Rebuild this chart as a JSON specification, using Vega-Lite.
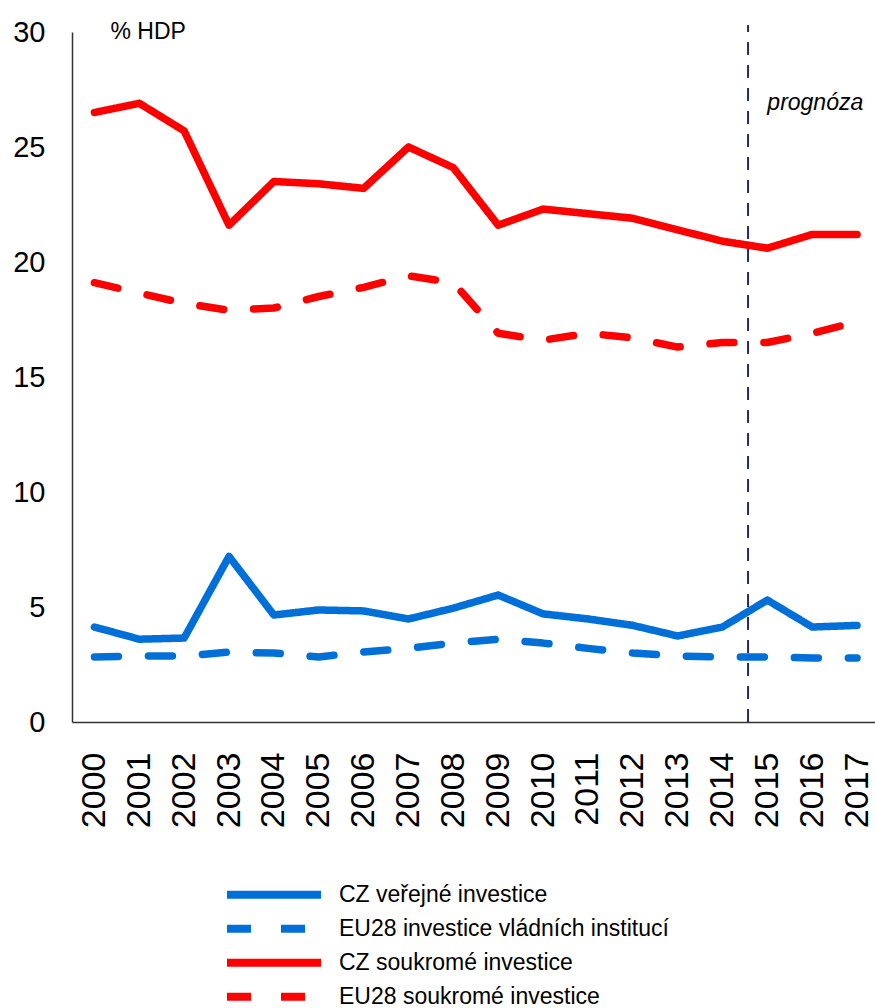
{
  "$schema": "https://vega.github.io/schema/vega-lite/v6.json",
  "width": 803,
  "height": 690,
  "autosize": {"type": "none"},
  "padding": {"left": 72, "top": 32, "right": 0, "bottom": 286},
  "background": "white",
  "config": {
    "view": {"stroke": null},
    "font": "Liberation Sans",
    "axis": {"labelColor": "#000", "titleColor": "#000", "domainColor": "#333", "domainWidth": 1.5, "ticks": false, "grid": false}
  },
  "datasets": {
    "inv": [
      {"year": 2000, "series": "CZ veřejné investice", "value": 4.13},
      {"year": 2001, "series": "CZ veřejné investice", "value": 3.6},
      {"year": 2002, "series": "CZ veřejné investice", "value": 3.65},
      {"year": 2003, "series": "CZ veřejné investice", "value": 7.2},
      {"year": 2004, "series": "CZ veřejné investice", "value": 4.65},
      {"year": 2005, "series": "CZ veřejné investice", "value": 4.87},
      {"year": 2006, "series": "CZ veřejné investice", "value": 4.83},
      {"year": 2007, "series": "CZ veřejné investice", "value": 4.48},
      {"year": 2008, "series": "CZ veřejné investice", "value": 4.95},
      {"year": 2009, "series": "CZ veřejné investice", "value": 5.52},
      {"year": 2010, "series": "CZ veřejné investice", "value": 4.7},
      {"year": 2011, "series": "CZ veřejné investice", "value": 4.48},
      {"year": 2012, "series": "CZ veřejné investice", "value": 4.2},
      {"year": 2013, "series": "CZ veřejné investice", "value": 3.74},
      {"year": 2014, "series": "CZ veřejné investice", "value": 4.13},
      {"year": 2015, "series": "CZ veřejné investice", "value": 5.3},
      {"year": 2016, "series": "CZ veřejné investice", "value": 4.13},
      {"year": 2017, "series": "CZ veřejné investice", "value": 4.2},
      {"year": 2000, "series": "EU28 investice vládních institucí", "value": 2.83},
      {"year": 2001, "series": "EU28 investice vládních institucí", "value": 2.87},
      {"year": 2002, "series": "EU28 investice vládních institucí", "value": 2.87},
      {"year": 2003, "series": "EU28 investice vládních institucí", "value": 3.04},
      {"year": 2004, "series": "EU28 investice vládních institucí", "value": 3.0},
      {"year": 2005, "series": "EU28 investice vládních institucí", "value": 2.83},
      {"year": 2006, "series": "EU28 investice vládních institucí", "value": 3.04},
      {"year": 2007, "series": "EU28 investice vládních institucí", "value": 3.2},
      {"year": 2008, "series": "EU28 investice vládních institucí", "value": 3.43},
      {"year": 2009, "series": "EU28 investice vládních institucí", "value": 3.6},
      {"year": 2010, "series": "EU28 investice vládních institucí", "value": 3.43},
      {"year": 2011, "series": "EU28 investice vládních institucí", "value": 3.2},
      {"year": 2012, "series": "EU28 investice vládních institucí", "value": 3.0},
      {"year": 2013, "series": "EU28 investice vládních institucí", "value": 2.87},
      {"year": 2014, "series": "EU28 investice vládních institucí", "value": 2.83},
      {"year": 2015, "series": "EU28 investice vládních institucí", "value": 2.83},
      {"year": 2016, "series": "EU28 investice vládních institucí", "value": 2.78},
      {"year": 2017, "series": "EU28 investice vládních institucí", "value": 2.78},
      {"year": 2000, "series": "CZ soukromé investice", "value": 26.5},
      {"year": 2001, "series": "CZ soukromé investice", "value": 26.9},
      {"year": 2002, "series": "CZ soukromé investice", "value": 25.7},
      {"year": 2003, "series": "CZ soukromé investice", "value": 21.6},
      {"year": 2004, "series": "CZ soukromé investice", "value": 23.5},
      {"year": 2005, "series": "CZ soukromé investice", "value": 23.4},
      {"year": 2006, "series": "CZ soukromé investice", "value": 23.2},
      {"year": 2007, "series": "CZ soukromé investice", "value": 25.0},
      {"year": 2008, "series": "CZ soukromé investice", "value": 24.1},
      {"year": 2009, "series": "CZ soukromé investice", "value": 21.6},
      {"year": 2010, "series": "CZ soukromé investice", "value": 22.3},
      {"year": 2011, "series": "CZ soukromé investice", "value": 22.1},
      {"year": 2012, "series": "CZ soukromé investice", "value": 21.9},
      {"year": 2013, "series": "CZ soukromé investice", "value": 21.4},
      {"year": 2014, "series": "CZ soukromé investice", "value": 20.9},
      {"year": 2015, "series": "CZ soukromé investice", "value": 20.6},
      {"year": 2016, "series": "CZ soukromé investice", "value": 21.2},
      {"year": 2017, "series": "CZ soukromé investice", "value": 21.2},
      {"year": 2000, "series": "EU28 soukromé investice", "value": 19.1},
      {"year": 2001, "series": "EU28 soukromé investice", "value": 18.65},
      {"year": 2002, "series": "EU28 soukromé investice", "value": 18.2},
      {"year": 2003, "series": "EU28 soukromé investice", "value": 17.9},
      {"year": 2004, "series": "EU28 soukromé investice", "value": 18.0},
      {"year": 2005, "series": "EU28 soukromé investice", "value": 18.5},
      {"year": 2006, "series": "EU28 soukromé investice", "value": 18.9},
      {"year": 2007, "series": "EU28 soukromé investice", "value": 19.4},
      {"year": 2008, "series": "EU28 soukromé investice", "value": 19.1},
      {"year": 2009, "series": "EU28 soukromé investice", "value": 16.9},
      {"year": 2010, "series": "EU28 soukromé investice", "value": 16.6},
      {"year": 2011, "series": "EU28 soukromé investice", "value": 16.9},
      {"year": 2012, "series": "EU28 soukromé investice", "value": 16.7},
      {"year": 2013, "series": "EU28 soukromé investice", "value": 16.3},
      {"year": 2014, "series": "EU28 soukromé investice", "value": 16.5},
      {"year": 2015, "series": "EU28 soukromé investice", "value": 16.5},
      {"year": 2016, "series": "EU28 soukromé investice", "value": 16.9},
      {"year": 2017, "series": "EU28 soukromé investice", "value": 17.4}
    ],
    "marker": [
      {"year": 2014.57, "label": "prognóza", "labelYear": 2015, "labelValue": 26.9, "bottom": 0, "top": 30.3}
    ]
  },
  "layer": [
    {
      "data": {"name": "inv"},
      "mark": {"type": "line", "strokeWidth": 7.5, "strokeCap": "round", "strokeJoin": "round"},
      "encoding": {
        "x": {
          "field": "year", "type": "quantitative",
          "scale": {"domain": [1999.5, 2017.4], "nice": false, "zero": false},
          "axis": {"values": [2000,2001,2002,2003,2004,2005,2006,2007,2008,2009,2010,2011,2012,2013,2014,2015,2016,2017], "format": "d", "labelAngle": -90, "labelFontSize": 34, "labelPadding": 30, "title": null, "labelFlush": false, "labelOverlap": false}
        },
        "y": {
          "field": "value", "type": "quantitative",
          "scale": {"domain": [0, 30], "nice": false},
          "axis": {"values": [0,5,10,15,20,25,30], "labelFontSize": 29, "labelPadding": 27, "labelFlush": false, "title": "% HDP", "titleAngle": 0, "titleX": 38, "titleY": 6, "titleAlign": "left", "titleBaseline": "alphabetic", "titleFontWeight": "normal", "titleFontSize": 23}
        },
        "color": {
          "field": "series", "type": "nominal",
          "scale": {"domain": ["CZ veřejné investice", "EU28 investice vládních institucí", "CZ soukromé investice", "EU28 soukromé investice"], "range": ["#0070D8", "#0070D8", "#FF0000", "#FF0000"]},
          "legend": {"orient": "none", "legendX": 151, "legendY": 846, "title": null, "symbolType": "stroke", "symbolSize": 8836, "symbolStrokeWidth": 8, "clipHeight": 33.5, "labelFontSize": 23, "labelOffset": 14, "padding": 0, "rowPadding": 0, "labelColor": "#000", "labelLimit": 500}
        },
        "strokeDash": {
          "field": "series", "type": "nominal",
          "scale": {"domain": ["CZ veřejné investice", "EU28 investice vládních institucí", "CZ soukromé investice", "EU28 soukromé investice"], "range": [[1, 0], [24, 30], [1, 0], [24, 30]]},
          "legend": {"orient": "none", "legendX": 151, "legendY": 846, "title": null, "symbolType": "stroke", "symbolSize": 8836, "symbolStrokeWidth": 8, "clipHeight": 33.5, "labelFontSize": 23, "labelOffset": 14, "padding": 0, "rowPadding": 0, "labelColor": "#000", "labelLimit": 500}
        }
      }
    },
    {
      "data": {"name": "marker"},
      "mark": {"type": "rule", "color": "#252C63", "strokeWidth": 2, "strokeDash": [13, 10]},
      "encoding": {
        "x": {"field": "year", "type": "quantitative"},
        "y": {"field": "bottom", "type": "quantitative"},
        "y2": {"field": "top"}
      }
    },
    {
      "data": {"name": "marker"},
      "mark": {"type": "text", "align": "left", "baseline": "middle", "fontStyle": "italic", "fontSize": 23, "color": "#000"},
      "encoding": {
        "x": {"field": "labelYear", "type": "quantitative"},
        "y": {"field": "labelValue", "type": "quantitative"},
        "text": {"field": "label"}
      }
    }
  ]
}
